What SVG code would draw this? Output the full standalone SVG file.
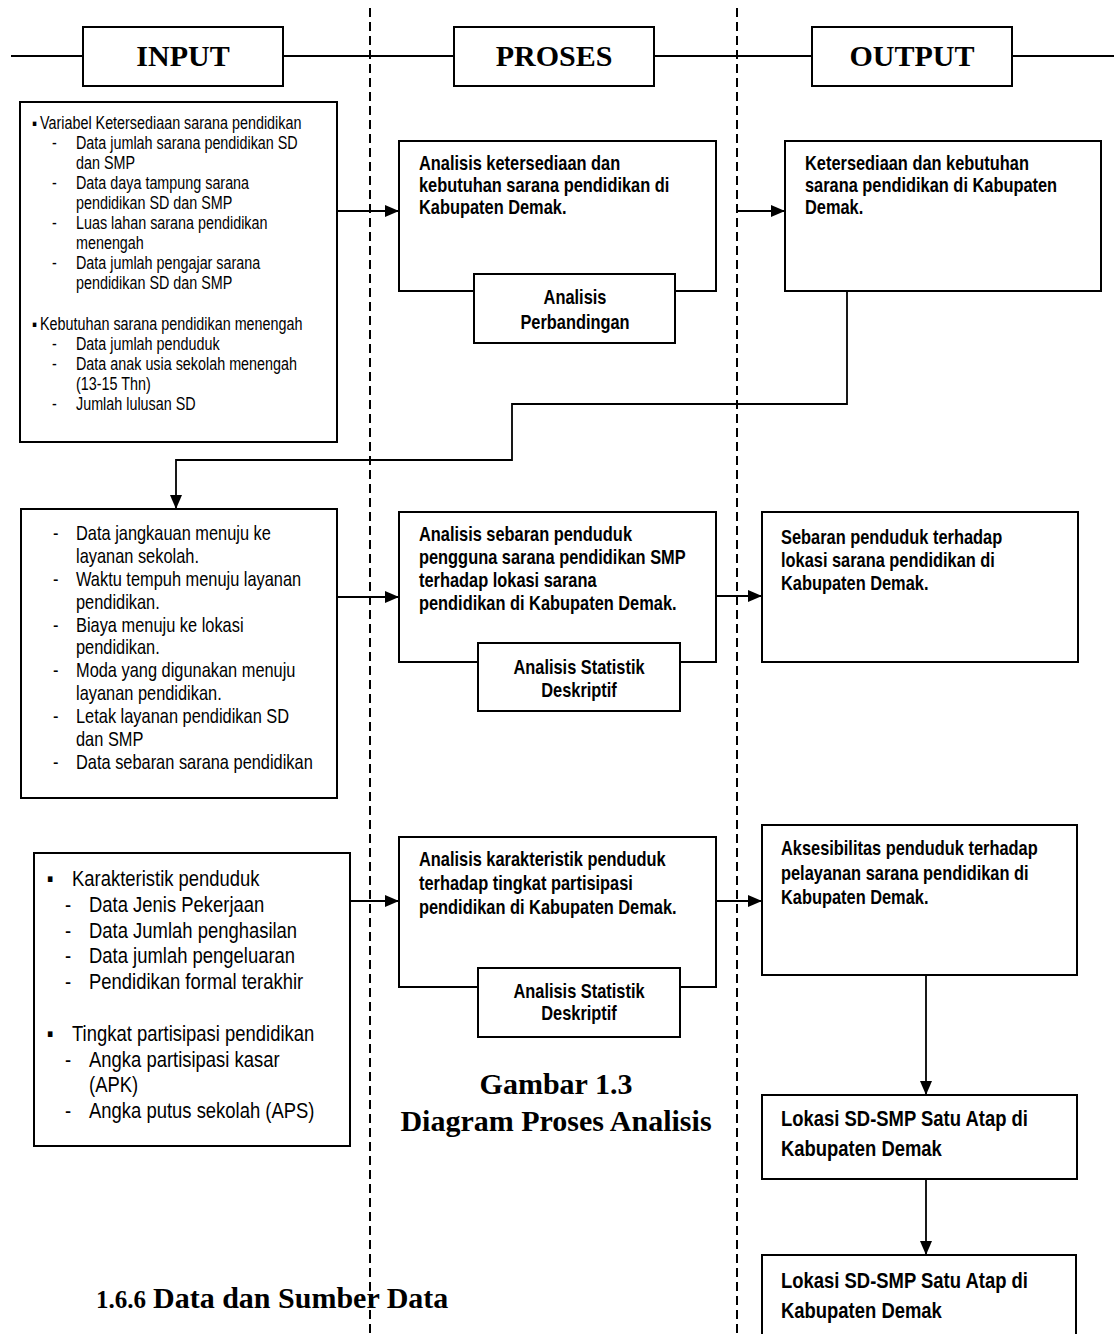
<svg xmlns="http://www.w3.org/2000/svg" width="1114" height="1334" viewBox="0 0 1114 1334" xml:space="preserve">
<style>
.box{fill:#fff;stroke:#000;stroke-width:2}
.t{font-family:"Liberation Sans Narrow","Liberation Sans",Arial,sans-serif;white-space:pre;fill:#000}
.s1{font-size:17.5px}
.s2{font-size:20px}
.s3{font-size:22.5px}
.b{font-weight:bold}
.m{text-anchor:middle}
.h{font-family:"Liberation Serif","Times New Roman",serif;font-weight:bold;font-size:30px;fill:#000;white-space:pre}
.c{fill:none;stroke:#000;stroke-width:1.8}
.dash{stroke:#000;stroke-width:2;stroke-dasharray:9 5}
</style>
<defs>
<marker id="ah" markerWidth="14" markerHeight="12" refX="14" refY="6" orient="auto" markerUnits="userSpaceOnUse"><path d="M0,0 L14,6 L0,12 z" fill="#000"/></marker>
</defs>
<rect width="1114" height="1334" fill="#fff"/>
<g id="guides">
<line class="dash" x1="370" y1="8" x2="370" y2="1334"/>
<line class="dash" x1="737" y1="8" x2="737" y2="1334"/>
<line x1="11" y1="56" x2="1114" y2="56" stroke="#000" stroke-width="2"/>
</g>
<g id="connectors">
<line class="c" x1="337" y1="211" x2="399" y2="211" marker-end="url(#ah)"/>
<line class="c" x1="737" y1="211" x2="785" y2="211" marker-end="url(#ah)"/>
<polyline class="c" points="847,291 847,404 512,404 512,460 176,460 176,509" marker-end="url(#ah)"/>
<line class="c" x1="337" y1="597" x2="399" y2="597" marker-end="url(#ah)"/>
<line class="c" x1="712" y1="596" x2="762" y2="596" marker-end="url(#ah)"/>
<line class="c" x1="350" y1="901" x2="399" y2="901" marker-end="url(#ah)"/>
<line class="c" x1="712" y1="901" x2="762" y2="901" marker-end="url(#ah)"/>
<line class="c" x1="926" y1="975" x2="926" y2="1095" marker-end="url(#ah)"/>
<line class="c" x1="926" y1="1179" x2="926" y2="1255" marker-end="url(#ah)"/>
</g>
<g id="hdr-input"><rect class="box" x="83" y="27" width="200" height="59"/><text class="h m" x="183" y="66">INPUT</text></g>
<g id="hdr-proses"><rect class="box" x="454" y="27" width="200" height="59"/><text class="h m" x="554" y="66">PROSES</text></g>
<g id="hdr-output"><rect class="box" x="812" y="27" width="200" height="59"/><text class="h m" x="912" y="66">OUTPUT</text></g>

<g id="input1">
<rect class="box" x="20" y="102" width="317" height="340"/>
<g class="t s1" transform="translate(76,0) scale(0.82,1)">
<text x="-53.66" y="129">▪</text><text x="-43.9" y="129">Variabel Ketersediaan sarana pendidikan</text>
<text x="-29.27" y="149">-</text><text x="0" y="149">Data jumlah sarana pendidikan SD</text>
<text x="0" y="169">dan SMP</text>
<text x="-29.27" y="189">-</text><text x="0" y="189">Data daya tampung sarana</text>
<text x="0" y="209">pendidikan SD dan SMP</text>
<text x="-29.27" y="229.5">-</text><text x="0" y="229.5">Luas lahan sarana pendidikan</text>
<text x="0" y="249.5">menengah</text>
<text x="-29.27" y="269.5">-</text><text x="0" y="269.5">Data jumlah pengajar sarana</text>
<text x="0" y="289.5">pendidikan  SD dan SMP</text>
<text x="-53.66" y="330">▪</text><text x="-43.9" y="330">Kebutuhan sarana pendidikan menengah</text>
<text x="-29.27" y="350">-</text><text x="0" y="350">Data jumlah penduduk</text>
<text x="-29.27" y="370">-</text><text x="0" y="370">Data anak usia sekolah menengah</text>
<text x="0" y="390">(13-15 Thn)</text>
<text x="-29.27" y="410">-</text><text x="0" y="410">Jumlah lulusan SD</text>
</g>
</g>

<g id="proses1">
<rect class="box" x="399" y="141" width="317" height="150"/>
<g class="t s2 b" transform="translate(419,0) scale(0.82,1)">
<text x="0" y="170">Analisis ketersediaan dan</text>
<text x="0" y="192">kebutuhan sarana pendidikan di</text>
<text x="0" y="214">Kabupaten Demak.</text>
</g>
</g>
<g id="metode1">
<rect class="box" x="474" y="274" width="201" height="69"/>
<g class="t s2 b m" transform="translate(575,0) scale(0.82,1)">
<text x="0" y="304">Analisis</text>
<text x="0" y="329">Perbandingan</text>
</g>
</g>

<g id="output1">
<rect class="box" x="785" y="141" width="316" height="150"/>
<g class="t s2 b" transform="translate(805,0) scale(0.82,1)">
<text x="0" y="170">Ketersediaan dan kebutuhan</text>
<text x="0" y="192">sarana  pendidikan di Kabupaten</text>
<text x="0" y="214">Demak.</text>
</g>
</g>

<g id="input2">
<rect class="box" x="21" y="509" width="316" height="289"/>
<g class="t s2" transform="translate(76,0) scale(0.82,1)">
<text x="-28.05" y="540">-</text><text x="0" y="540">Data jangkauan menuju ke</text>
<text x="0" y="562.9">layanan sekolah.</text>
<text x="-28.05" y="585.8">-</text><text x="0" y="585.8">Waktu tempuh menuju layanan</text>
<text x="0" y="608.7">pendidikan.</text>
<text x="-28.05" y="631.6">-</text><text x="0" y="631.6">Biaya menuju ke lokasi</text>
<text x="0" y="654.5">pendidikan.</text>
<text x="-28.05" y="677.4">-</text><text x="0" y="677.4">Moda yang digunakan menuju</text>
<text x="0" y="700.3">layanan pendidikan.</text>
<text x="-28.05" y="723.2">-</text><text x="0" y="723.2">Letak layanan pendidikan SD</text>
<text x="0" y="746.1">dan SMP</text>
<text x="-28.05" y="769">-</text><text x="0" y="769">Data sebaran sarana pendidikan</text>
</g>
</g>

<g id="proses2">
<rect class="box" x="399" y="512" width="317" height="150"/>
<g class="t s2 b" transform="translate(419,0) scale(0.82,1)">
<text x="0" y="541">Analisis sebaran penduduk</text>
<text x="0" y="564">pengguna sarana pendidikan SMP</text>
<text x="0" y="587">terhadap  lokasi  sarana</text>
<text x="0" y="610">pendidikan di Kabupaten Demak.</text>
</g>
</g>
<g id="metode2">
<rect class="box" x="478" y="643" width="202" height="68"/>
<g class="t s2 b m" transform="translate(579,0) scale(0.82,1)">
<text x="0" y="674">Analisis Statistik</text>
<text x="0" y="697">Deskriptif</text>
</g>
</g>

<g id="output2">
<rect class="box" x="762" y="512" width="316" height="150"/>
<g class="t s2 b" transform="translate(781,0) scale(0.82,1)">
<text x="0" y="544">Sebaran penduduk terhadap</text>
<text x="0" y="567">lokasi  sarana pendidikan di</text>
<text x="0" y="590">Kabupaten Demak.</text>
</g>
</g>

<g id="input3">
<rect class="box" x="34" y="853" width="316" height="293"/>
<g class="t s3" transform="translate(89,0) scale(0.82,1)">
<text x="-51.22" y="886">▪</text><text x="-20.73" y="886">Karakteristik penduduk</text>
<text x="-29.27" y="912">-</text><text x="0" y="912">Data Jenis Pekerjaan</text>
<text x="-29.27" y="938">-</text><text x="0" y="938">Data Jumlah penghasilan</text>
<text x="-29.27" y="963">-</text><text x="0" y="963">Data jumlah pengeluaran</text>
<text x="-29.27" y="989">-</text><text x="0" y="989">Pendidikan formal terakhir</text>
<text x="-51.22" y="1041">▪</text><text x="-20.73" y="1041">Tingkat partisipasi pendidikan</text>
<text x="-29.27" y="1067">-</text><text x="0" y="1067">Angka partisipasi kasar</text>
<text x="0" y="1092">(APK)</text>
<text x="-29.27" y="1118">-</text><text x="0" y="1118">Angka putus sekolah (APS)</text>
</g>
</g>

<g id="proses3">
<rect class="box" x="399" y="837" width="317" height="150"/>
<g class="t s2 b" transform="translate(419,0) scale(0.82,1)">
<text x="0" y="866">Analisis  karakteristik penduduk</text>
<text x="0" y="890">terhadap tingkat  partisipasi</text>
<text x="0" y="914">pendidikan di Kabupaten Demak.</text>
</g>
</g>
<g id="metode3">
<rect class="box" x="478" y="968" width="202" height="69"/>
<g class="t s2 b m" transform="translate(579,0) scale(0.82,1)">
<text x="0" y="998">Analisis Statistik</text>
<text x="0" y="1020">Deskriptif</text>
</g>
</g>

<g id="output3">
<rect class="box" x="762" y="825" width="315" height="150"/>
<g class="t s2 b" transform="translate(781,0) scale(0.82,1)">
<text x="0" y="855">Aksesibilitas  penduduk terhadap</text>
<text x="0" y="880">pelayanan sarana pendidikan di</text>
<text x="0" y="904">Kabupaten Demak.</text>
</g>
</g>

<g id="output4">
<rect class="box" x="762" y="1095" width="315" height="84"/>
<g class="t s3 b" transform="translate(781,0) scale(0.82,1)">
<text x="0" y="1126">Lokasi SD-SMP Satu Atap di</text>
<text x="0" y="1156">Kabupaten Demak</text>
</g>
</g>

<g id="output5">
<rect class="box" x="762" y="1255" width="314" height="100"/>
<g class="t s3 b" transform="translate(781,0) scale(0.82,1)">
<text x="0" y="1288">Lokasi SD-SMP Satu Atap di</text>
<text x="0" y="1318">Kabupaten Demak</text>
</g>
</g>

<g id="caption">
<text class="h m" x="556" y="1094">Gambar 1.3</text>
<text class="h m" x="556" y="1131">Diagram Proses Analisis</text>
</g>
<g id="heading">
<text class="h" y="1308" font-size="28"><tspan x="96" font-size="25">1.6.6</tspan><tspan x="153">Data dan Sumber Data</tspan></text>
</g>
</svg>
